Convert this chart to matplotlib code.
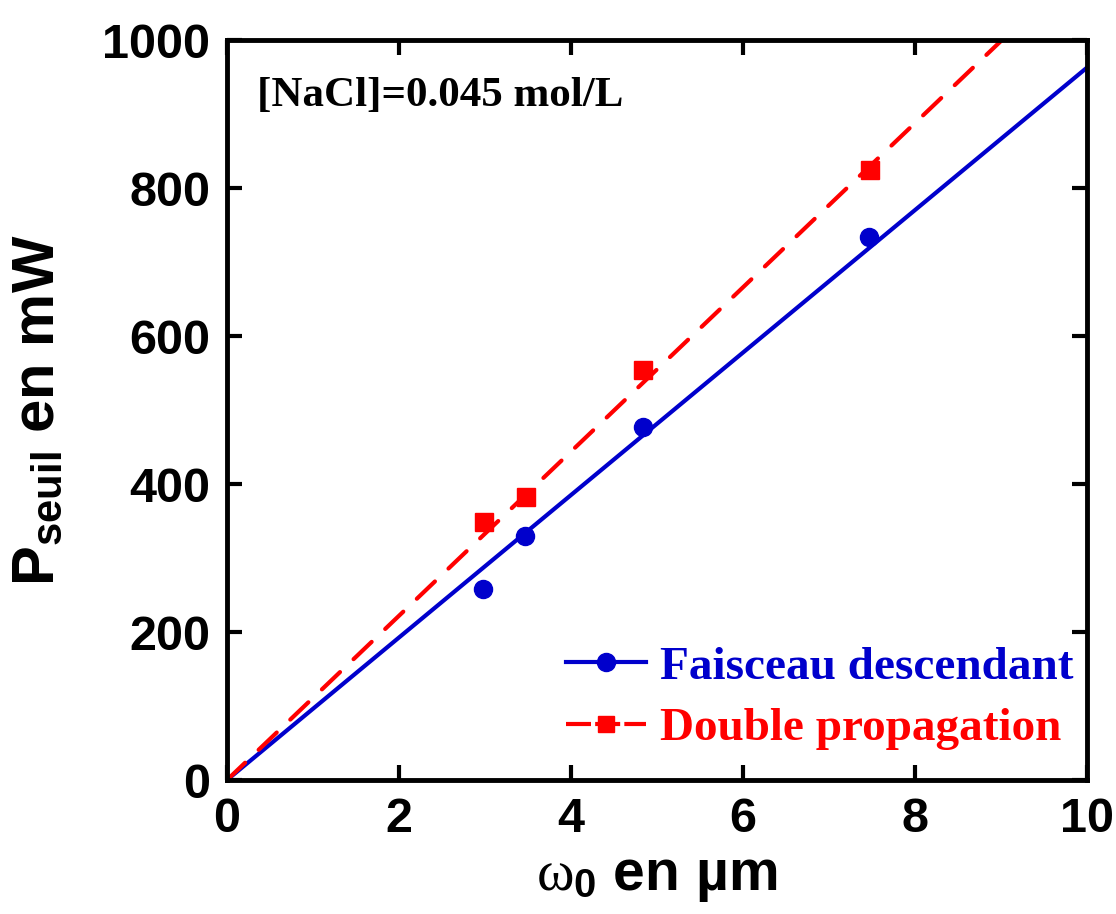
import matplotlib
matplotlib.use("Agg")
import matplotlib.pyplot as plt
import numpy as np

# data
w0_desc = [2.98, 3.47, 4.84, 7.47]
p_desc = [258, 330, 477, 734]
w0_double = [2.99, 3.48, 4.84, 7.48]
p_double = [349, 382, 554, 824]

# linear fits through origin
slope_desc = 96.3
slope_double = 111.0
fit_x_desc = [0, 10]
fit_x_double = [0, 9.0]

xticks = [0, 2, 4, 6, 8, 10]
yticks = [0, 200, 400, 600, 800, 1000]

plt.rcParams['mathtext.fontset'] = 'custom'
plt.rcParams['mathtext.rm'] = 'Liberation Sans:bold'
plt.rcParams['mathtext.bf'] = 'Liberation Sans:bold'
plt.rcParams['mathtext.it'] = 'Liberation Serif'

fig = plt.figure(figsize=(11.16, 9.14), dpi=100)
ax = fig.add_axes([0.2034, 0.1466, 0.7706, 0.8094])

blue = '#0000cc'
red = '#ff0000'

ax.plot(fit_x_desc, [slope_desc * x for x in fit_x_desc], color=blue, lw=3)
ax.plot(fit_x_double, [slope_double * x for x in fit_x_double], color=red, lw=3,
        dashes=(6, 4.5), dash_capstyle='round')
ax.plot(w0_desc, p_desc, 'o', color=blue, ms=13)
ax.plot(w0_double, p_double, 's', color=red, ms=13.5)

# legend handles
h1, = ax.plot([], [], '-o', color=blue, lw=3, ms=13)
h2, = ax.plot([], [], '--s', color=red, lw=3, ms=12, dashes=(6, 1))
leg = ax.legend([h1, h2], ['Faisceau descendant', 'Double propagation'],
                loc='lower right', bbox_to_anchor=(1.012, 0.008), frameon=False,
                handlelength=1.7, handletextpad=0.3, labelspacing=0.4,
                borderaxespad=0.1,
                prop={'family': 'Liberation Serif', 'weight': 'bold', 'size': 34})
for t, c in zip(leg.get_texts(), [blue, red]):
    t.set_color(c)

ax.text(0.035, 0.925, '[NaCl]=0.045 mol/L', transform=ax.transAxes,
        fontsize=31, fontweight='bold', family='Liberation Serif', va='center')

ax.set_xlim(0, 10)
ax.set_ylim(0, 1000)
ax.set_xticks(xticks)
ax.set_yticks(yticks)
ax.tick_params(direction='in', length=11, width=3, top=True, right=True,
               labelsize=35, pad=12)
for lab in ax.get_xticklabels() + ax.get_yticklabels():
    lab.set_fontweight('bold')
    lab.set_family('Liberation Sans')
for s in ax.spines.values():
    s.set_linewidth(3.5)

ax.set_xlabel(r'$\omega_{\mathbf{0}}$ en µm', fontsize=41, fontweight='bold',
              family='Liberation Sans', labelpad=6)
ax.set_ylabel(r'P$_{\mathbf{seuil}}$ en mW', fontsize=43, fontweight='bold',
              family='Liberation Sans', labelpad=26)

fig.savefig('out.png', dpi=100)
